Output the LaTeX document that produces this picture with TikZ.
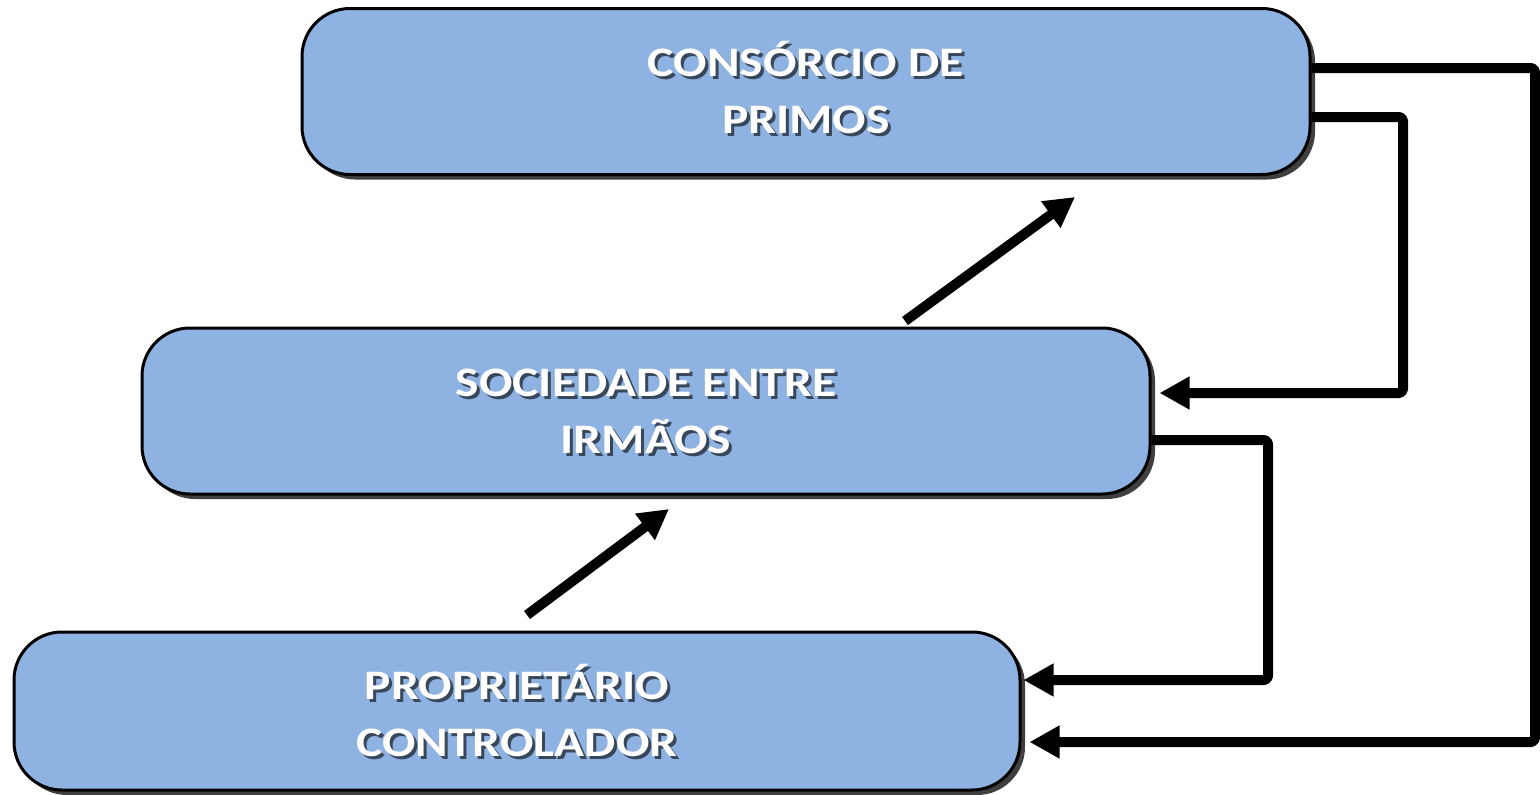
\documentclass[tikz,border=0pt]{standalone}
\usepackage{fontspec}
\setmainfont{Carlito}[FakeStretch=1.18]
\usetikzlibrary{arrows.meta,shadows}
\definecolor{boxblue}{HTML}{8EB3E3}
\definecolor{shadowgray}{HTML}{404040}
\begin{document}
\begin{tikzpicture}[x=1pt,y=-1pt,
  box/.style={draw=black, line width=3pt, fill=boxblue, rounded corners=48pt,
    minimum width=1008pt, minimum height=166pt, inner sep=0pt,
    drop shadow={shadow xshift=5pt, shadow yshift=-5pt, fill=shadowgray, opacity=1}},
  boxtext/.style={font=\bfseries\fontsize{42}{57}\selectfont, align=center, text=white, inner sep=0pt},
  textshade/.style={boxtext, text=black, opacity=0.6},
  conn/.style={line width=10pt, rounded corners=4pt, line join=round,
    -{Triangle[length=30pt,width=31pt]}}]
\useasboundingbox (0,0) rectangle (1540,795);
% boxes
\node[box] (top) at (806,91.5) {};
\node[box] (mid) at (646,411) {};
\node[box, minimum width=1006pt, minimum height=158pt] (bot) at (517,711) {};
% texts
\node[textshade] (topsh) at ([shift={(3,-1)}]top.center) {CONSÓRCIO DE\\PRIMOS};
\node[boxtext] (toptext) at ([shift={(0,-4)}]top.center) {CONSÓRCIO DE\\PRIMOS};
\node[textshade] (midsh) at ([shift={(3,3)}]mid.center) {SOCIEDADE ENTRE\\IRMÃOS};
\node[boxtext] (midtext) at (mid.center) {SOCIEDADE ENTRE\\IRMÃOS};
\node[textshade] (botsh) at ([shift={(3,2)}]bot.center) {PROPRIETÁRIO\\CONTROLADOR};
\node[boxtext] (bottext) at ([shift={(0,-1)}]bot.center) {PROPRIETÁRIO\\CONTROLADOR};
% connectors
\coordinate (b1) at (1535,68);
\coordinate (b1e) at (1535,742);
\coordinate (b2) at (1403,117);
\coordinate (b2e) at (1403,393);
\coordinate (b3) at (1268,440);
\coordinate (b3e) at (1268,680);
\draw[conn] (top.east |- b1) -- (b1) -- (b1e) -- ([xshift=8pt]bot.east |- b1e);
\draw[conn] (top.east |- b2) -- (b2) -- (b2e) -- ([xshift=8pt]mid.east |- b2e);
\draw[conn] (mid.east |- b3) -- (b3) -- (b3e) -- ([xshift=2pt]bot.east |- b3e);
\coordinate (a1s) at (905,321);
\coordinate (a1e) at (1075,197);
\coordinate (a2s) at (527,615);
\coordinate (a2e) at (669,509);
\draw[conn] (a1s) -- (a1e);
\draw[conn] (a2s) -- (a2e);
\end{tikzpicture}
\end{document}
